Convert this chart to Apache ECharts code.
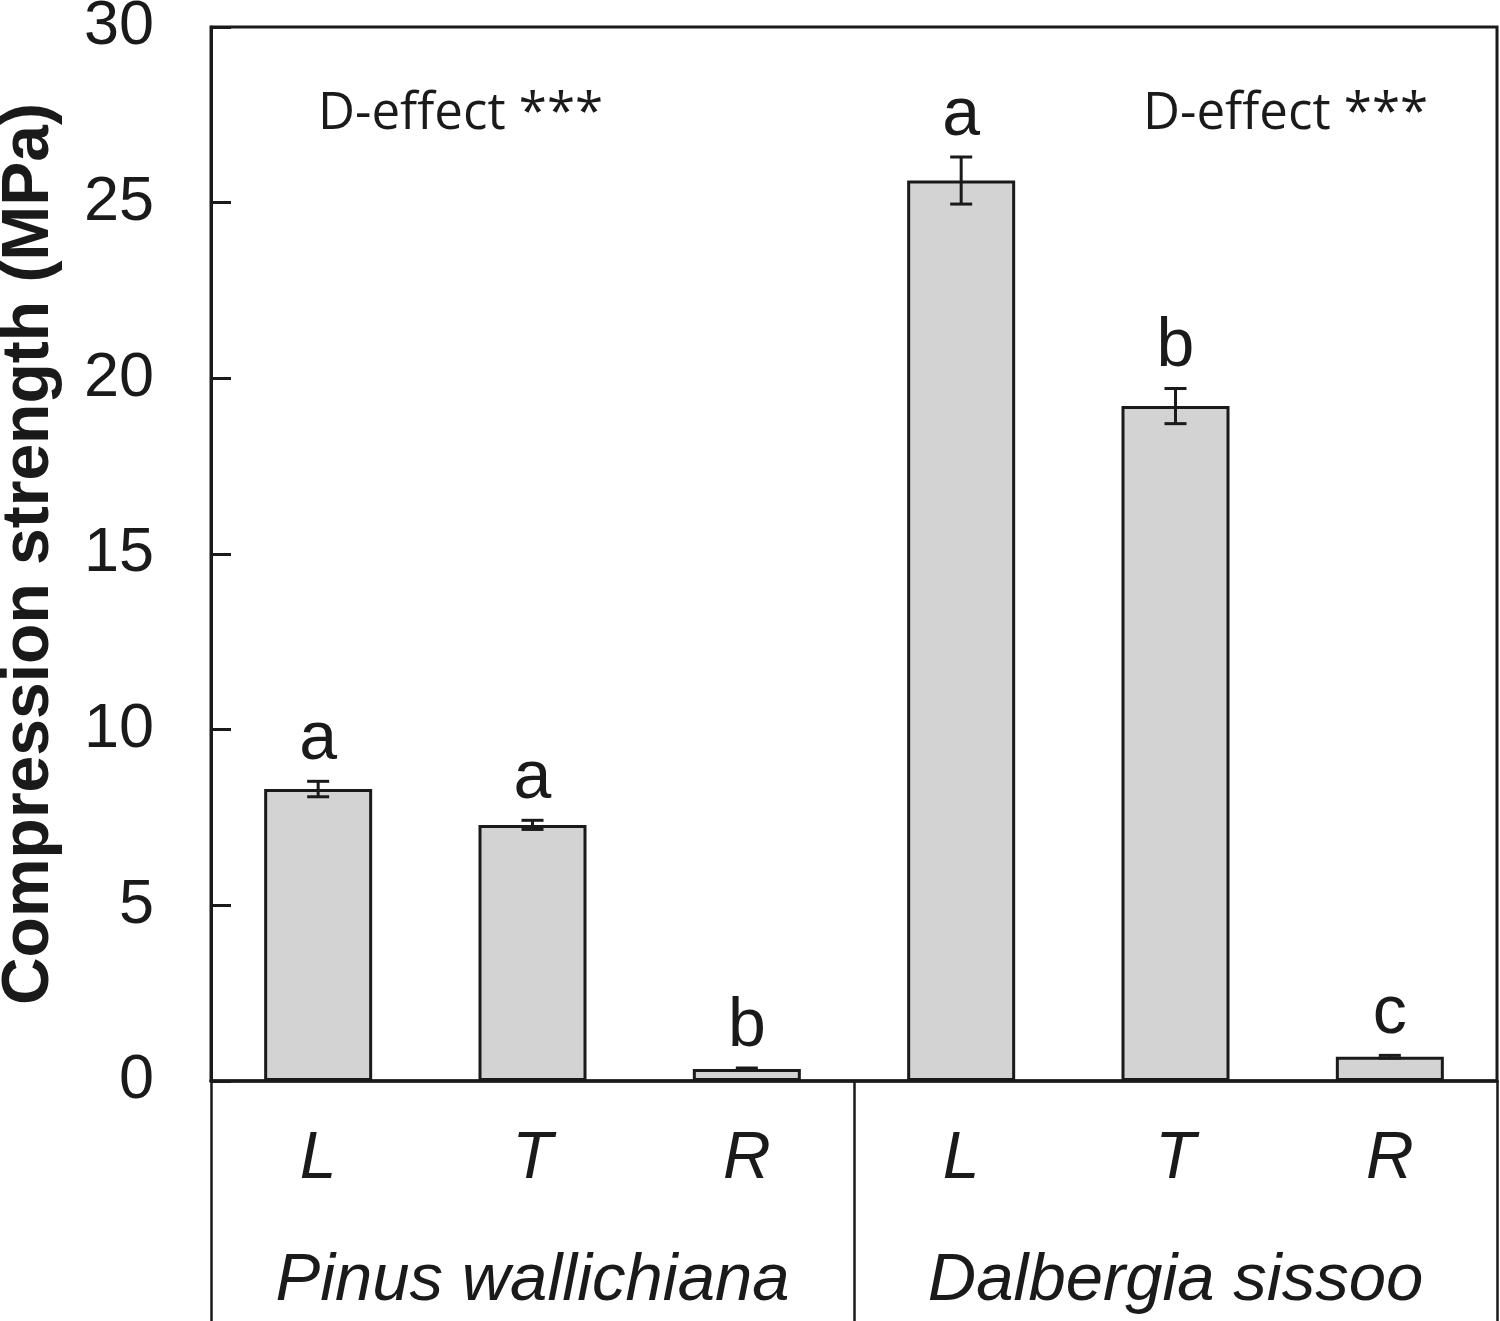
<!DOCTYPE html>
<html>
<head>
<meta charset="utf-8">
<script src="https://cdn.jsdelivr.net/npm/echarts@6/dist/echarts.min.js"></script>
<style>
  html, body { margin: 0; padding: 0; background: #fff; }
  #main { width: 1500px; height: 1321px; }
</style>
</head>
<body>
<div id="main"></div>
<script>
// directions of loading, per species
var directions = ['L', 'T', 'R', 'L', 'T', 'R'];
var species = ['Pinus wallichiana', 'Dalbergia sissoo'];
// compression strength (MPa), mean and standard error
var means = [8.31, 7.29, 0.34, 25.63, 19.21, 0.69];
var errors = [0.22, 0.13, 0.03, 0.67, 0.50, 0.04];
var letters = ['a', 'a', 'b', 'a', 'b', 'c'];
var yTicks = [0, 5, 10, 15, 20, 25, 30];
var effectNote = 'D-effect ***';

var ink = '#1a1a1a';
var sans = '"Liberation Sans", Arial, sans-serif';

var myChart = echarts.init(document.getElementById('main'));

var errData = means.map(function (m, i) {
    return [i, m, errors[i]];
});

var option = {
    animation: false,
    backgroundColor: '#fff',
    title: [
        {
            text: effectNote, left: 313, top: 84,
            textStyle: { fontFamily: '"Open Sans", sans-serif', fontWeight: 'normal', fontSize: 51, color: ink }
        },
        {
            text: effectNote, left: 1138, top: 84,
            textStyle: { fontFamily: '"Open Sans", sans-serif', fontWeight: 'normal', fontSize: 51, color: ink }
        }
    ],
    grid: {
        left: 211, right: 3, top: 27, bottom: 240,
        show: true, borderColor: ink, borderWidth: 3,
        containLabel: false,
        outerBoundsMode: 'none'
    },
    xAxis: [
        {
            type: 'category',
            data: directions,
            position: 'bottom',
            axisLine: { show: true, lineStyle: { color: ink, width: 3.5 } },
            axisTick: { show: false },
            axisLabel: {
                interval: 0, margin: 46,
                fontFamily: sans, fontStyle: 'italic', fontSize: 66, color: ink
            }
        },
        {
            type: 'category',
            data: species,
            position: 'bottom',
            offset: 0,
            axisLine: { show: false },
            axisTick: { show: true, interval: 0, length: 240, lineStyle: { color: ink, width: 2.5 } },
            axisLabel: {
                interval: 0, margin: 167,
                fontFamily: sans, fontStyle: 'italic', fontSize: 67, color: ink
            }
        }
    ],
    yAxis: {
        type: 'value',
        min: yTicks[0],
        max: yTicks[yTicks.length - 1],
        interval: 5,
        name: 'Compression strength (MPa)',
        nameLocation: 'middle',
        nameGap: 148,
        nameTextStyle: { fontFamily: sans, fontWeight: 'bold', fontSize: 66, color: ink },
        axisLine: { show: true, lineStyle: { color: ink, width: 3 } },
        axisTick: { show: true, inside: true, length: 20, lineStyle: { color: ink, width: 3 } },
        splitLine: { show: false },
        axisLabel: { margin: 57, fontFamily: sans, fontSize: 63, color: ink }
    },
    series: [
        {
            type: 'bar',
            xAxisIndex: 0,
            data: means,
            barWidth: 108,
            itemStyle: { color: '#d3d3d3', borderColor: ink, borderWidth: 3 }
        },
        {
            type: 'custom',
            xAxisIndex: 0,
            data: errData,
            z: 5,
            renderItem: function (params, api) {
                var i = api.value(0);
                var m = api.value(1);
                var e = api.value(2);
                var top = api.coord([i, m + e]);
                var bot = api.coord([i, m - e]);
                var half = 11;
                var st = { stroke: ink, lineWidth: 3 };
                return {
                    type: 'group',
                    children: [
                        { type: 'line', shape: { x1: top[0], y1: top[1], x2: bot[0], y2: bot[1] }, style: st },
                        { type: 'line', shape: { x1: top[0] - half, y1: top[1], x2: top[0] + half, y2: top[1] }, style: st },
                        { type: 'line', shape: { x1: bot[0] - half, y1: bot[1], x2: bot[0] + half, y2: bot[1] }, style: st },
                        {
                            type: 'text',
                            style: {
                                text: letters[params.dataIndex],
                                x: top[0], y: top[1] - 7,
                                align: 'center', verticalAlign: 'bottom',
                                fontFamily: sans, fontSize: 68, fill: ink
                            }
                        }
                    ]
                };
            }
        }
    ]
};

myChart.setOption(option);
</script>
</body>
</html>
